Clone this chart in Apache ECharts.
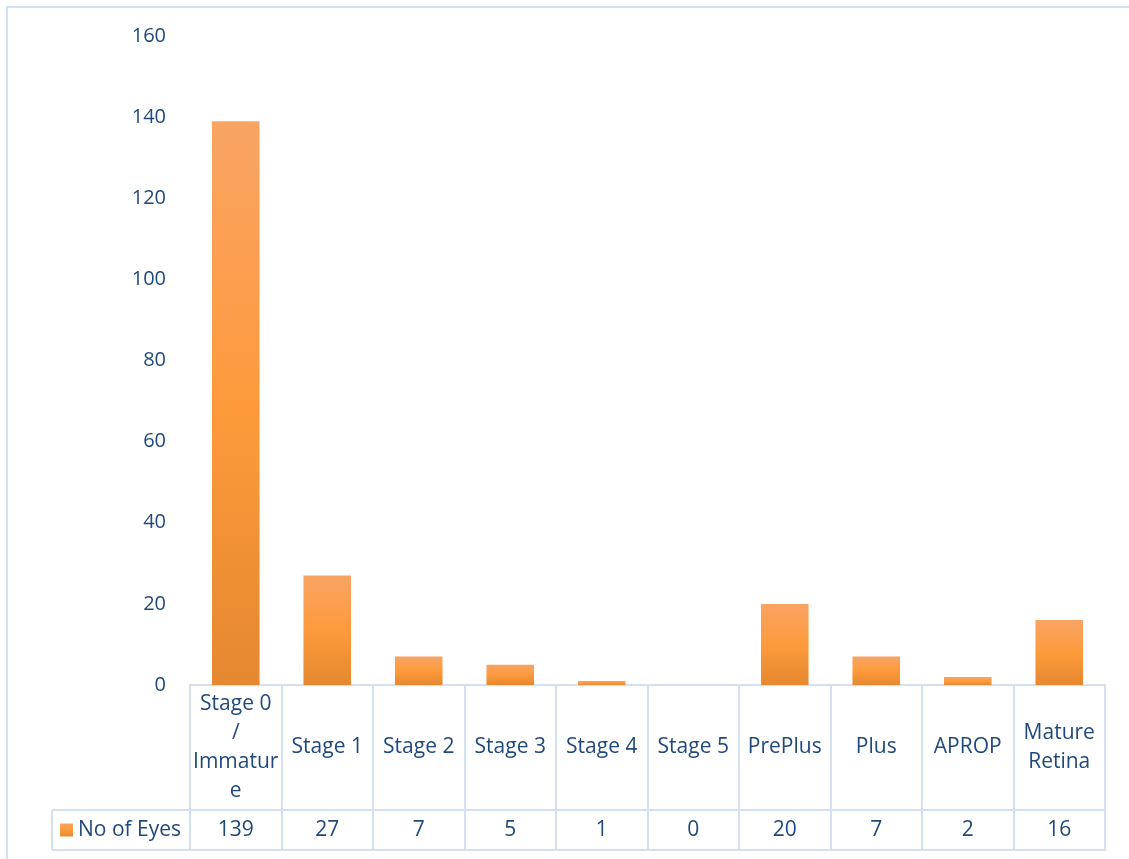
<!DOCTYPE html>
<html>
<head>
<meta charset="utf-8">
<script src="https://cdn.jsdelivr.net/npm/echarts@6/dist/echarts.min.js"></script>
<style>
  html, body { margin: 0; padding: 0; background: #fff; }
  #chart { width: 1129px; height: 859px; }
</style>
</head>
<body>
<div id="chart"></div>
<script>
// Category labels, wrapped as they appear in the header row of the data table
const categories = ['Stage 0\n/\nImmatur\ne', 'Stage 1', 'Stage 2', 'Stage 3', 'Stage 4',
  'Stage 5', 'PrePlus', 'Plus', 'APROP', 'Mature\nRetina'];
const seriesName = 'No of Eyes';
const eyes = [139, 27, 7, 5, 1, 0, 20, 7, 2, 16];
const yTicks = [0, 20, 40, 60, 80, 100, 120, 140, 160];

const W = 1129, H = 859;
const plot = { left: 190, right: 1105, top: 36, bottom: 685 };
const headerRowBottom = 810;
const tableBottom = 850;
const legendCellLeft = 52;

const textColor = '#1F497D';
const lineColor = '#D3E0F1';
const font = '"Open Sans", "Noto Sans", sans-serif';
const tableFontSize = 21;

const barFill = new echarts.graphic.LinearGradient(0, 0, 0, 1, [
  { offset: 0, color: '#F9A464' },
  { offset: 0.5, color: '#FE9A3C' },
  { offset: 1, color: '#E5882F' }
]);

const chart = echarts.init(document.getElementById('chart'), null, { renderer: 'canvas' });

chart.setOption({
  animation: false,
  backgroundColor: '#ffffff',
  textStyle: { fontFamily: font },
  grid: {
    left: plot.left,
    right: W - plot.right,
    top: plot.top,
    bottom: H - plot.bottom,
    containLabel: false
  },
  legend: {
    data: [seriesName],
    left: 60,
    top: (headerRowBottom + tableBottom) / 2 - 12,
    padding: 0,
    icon: 'rect',
    itemWidth: 13,
    itemHeight: 13,
    itemGap: 5,
    textStyle: { color: textColor, fontSize: tableFontSize, fontFamily: font, lineHeight: 24 }
  },
  xAxis: [
    {
      type: 'category',
      data: categories,
      gridIndex: 0,
      axisLine: { show: true, lineStyle: { color: lineColor, width: 2 } },
      axisTick: {
        show: true,
        interval: 0,
        length: tableBottom - plot.bottom,
        lineStyle: { color: lineColor, width: 2 }
      },
      axisLabel: {
        interval: 0,
        color: textColor,
        fontSize: tableFontSize,
        fontFamily: font,
        lineHeight: 29,
        align: 'center',
        verticalAlign: 'middle',
        margin: (headerRowBottom - plot.bottom) / 2
      }
    },
    {
      type: 'category',
      data: categories,
      gridIndex: 0,
      position: 'bottom',
      offset: headerRowBottom - plot.bottom,
      axisLine: { show: false },
      axisTick: { show: false },
      axisLabel: {
        interval: 0,
        color: textColor,
        fontSize: tableFontSize,
        fontFamily: font,
        verticalAlign: 'middle',
        margin: (tableBottom - headerRowBottom) / 2,
        formatter: function (v, i) { return String(eyes[i]); }
      }
    }
  ],
  yAxis: {
    type: 'value',
    min: yTicks[0],
    max: yTicks[yTicks.length - 1],
    interval: yTicks[1] - yTicks[0],
    axisLine: { show: false },
    axisTick: { show: false },
    splitLine: { show: false },
    axisLabel: {
      color: textColor,
      fontSize: 20,
      fontFamily: font,
      margin: 24
    }
  },
  series: [{
    name: seriesName,
    type: 'bar',
    xAxisIndex: 0,
    data: eyes,
    barWidth: '52%',
    itemStyle: { color: barFill }
  }],
  graphic: [
    // outer chart border
    {
      type: 'rect',
      shape: { x: 7, y: 7, width: W + 10, height: H + 10 },
      style: { fill: 'none', stroke: lineColor, lineWidth: 2 },
      silent: true
    },
    // horizontal rules of the data table (values row + legend cell)
    {
      type: 'line',
      shape: { x1: legendCellLeft, y1: headerRowBottom, x2: plot.right + 1, y2: headerRowBottom },
      style: { stroke: lineColor, lineWidth: 2 },
      silent: true
    },
    {
      type: 'line',
      shape: { x1: legendCellLeft, y1: tableBottom, x2: plot.right + 1, y2: tableBottom },
      style: { stroke: lineColor, lineWidth: 2 },
      silent: true
    },
    {
      type: 'line',
      shape: { x1: legendCellLeft, y1: headerRowBottom, x2: legendCellLeft, y2: tableBottom },
      style: { stroke: lineColor, lineWidth: 2 },
      silent: true
    }
  ]
});
</script>
</body>
</html>
